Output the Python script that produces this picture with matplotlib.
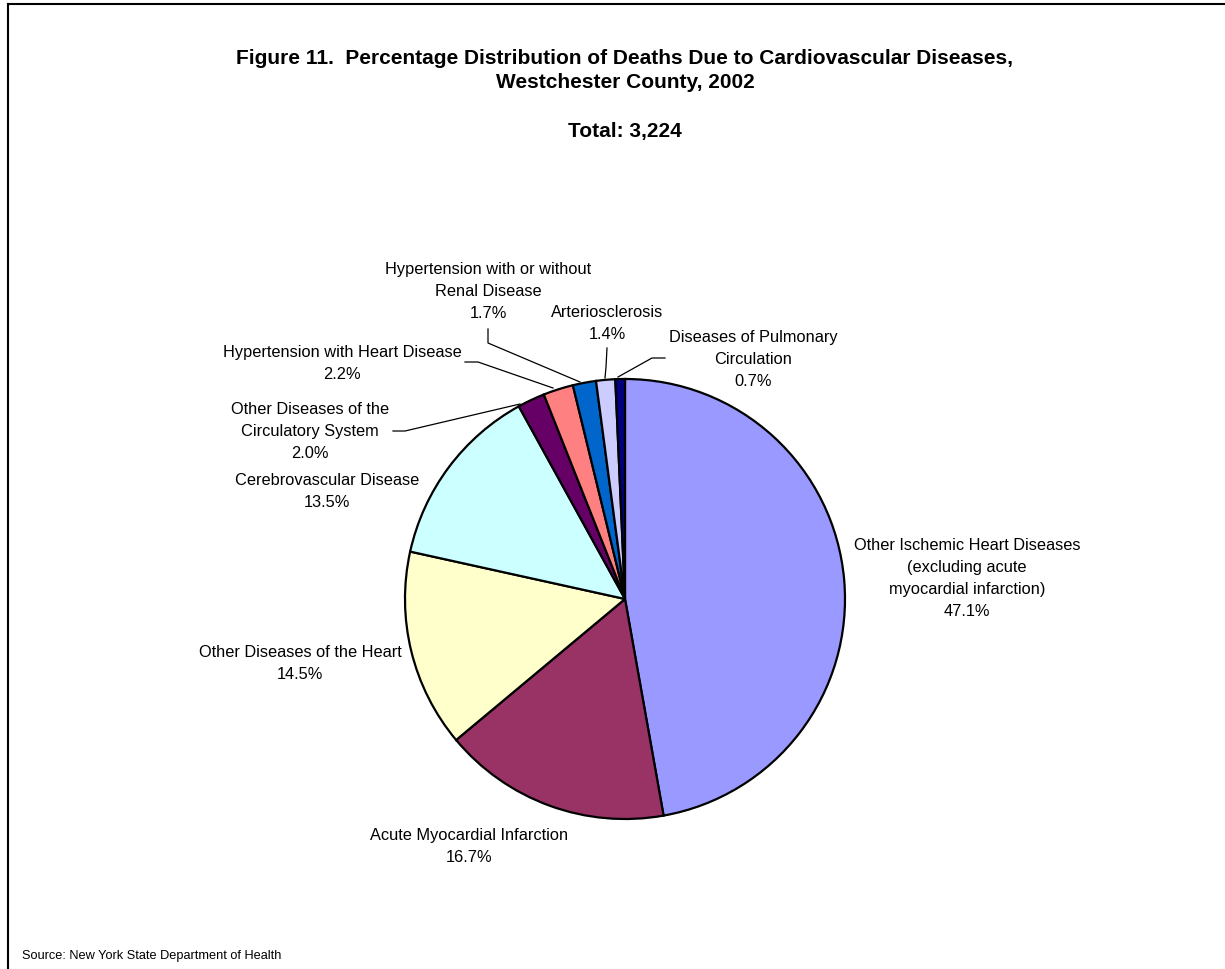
import matplotlib
matplotlib.use("Agg")
import matplotlib.pyplot as plt
import numpy as np

categories = [
    "Other Ischemic Heart Diseases\n(excluding acute\nmyocardial infarction)",
    "Acute Myocardial Infarction",
    "Other Diseases of the Heart",
    "Cerebrovascular Disease",
    "Other Diseases of the\nCirculatory System",
    "Hypertension with Heart Disease",
    "Hypertension with or without\nRenal Disease",
    "Arteriosclerosis",
    "Diseases of Pulmonary\nCirculation",
]
values = [47.1, 16.7, 14.5, 13.5, 2.0, 2.2, 1.7, 1.4, 0.7]
colors = ["#9999FF", "#993366", "#FFFFCC", "#CCFFFF", "#660066",
          "#FF8080", "#0066CC", "#CCCCFF", "#000080"]

W, H = 1225, 970
CX, CY, R = 625, 600, 220

plt.rcParams['font.family'] = ['Liberation Sans', 'DejaVu Sans']
fig = plt.figure(figsize=(W / 100, H / 100), dpi=100)
fig.patch.set_facecolor("white")

# frame lines (top & left)
fig.add_artist(plt.Line2D([8 / W, 1], [1 - 5 / H, 1 - 5 / H], color="black", lw=1.5))
fig.add_artist(plt.Line2D([8 / W, 8 / W], [0, 1 - 5 / H], color="black", lw=1.5))

ax = fig.add_axes([(CX - R) / W, (H - CY - R) / H, 2 * R / W, 2 * R / H])
ax.pie(values, colors=colors, startangle=90, counterclock=False,
       wedgeprops=dict(edgecolor="black", linewidth=1.6))
ax.set_xlim(-1, 1)
ax.set_ylim(-1, 1)
ax.set_aspect("equal")
ax.axis("off")


def d(px, py):
    return (px - CX) / R, (CY - py) / R


# label positions in pixels: (center x, y of first line)
label_pos = [
    (967, 546), (469, 836), (300, 653), (327, 481), (310, 410),
    (342, 353), (488, 270), (607, 313), (753, 338),
]
LINE = 22
fs = 11.8
for cat, v, (px, py) in zip(categories, values, label_pos):
    lines = cat.split("\n") + [f"{v:.1f}%"]
    for i, ln in enumerate(lines):
        x, y = d(px, py + i * LINE)
        ax.text(x, y, ln, ha="center", va="center", fontsize=fs, clip_on=False)

# leader lines (pixel paths)
leaders = [
    [(393, 432), (405, 432), (520, 405)],
    [(465, 363), (478, 363), (553, 389)],
    [(488, 330), (488, 344), (580, 383)],
    [(607, 349), (606, 368), (605, 379)],
    [(665, 359), (652, 359), (618, 378)],
]
for path in leaders:
    xs, ys = zip(*[d(px, py) for px, py in path])
    ax.plot(xs, ys, color="black", lw=0.9, clip_on=False)

fig.text(CX / W, 1 - 58 / H,
         "Figure 11.  Percentage Distribution of Deaths Due to Cardiovascular Diseases,",
         ha="center", va="center", fontsize=15, fontweight="bold")
fig.text(CX / W, 1 - 82 / H, "Westchester County, 2002",
         ha="center", va="center", fontsize=15, fontweight="bold")
fig.text(CX / W, 1 - 132 / H, "Total: 3,224", ha="center", va="center",
         fontsize=15, fontweight="bold")
fig.text(22 / W, 1 - 956 / H, "Source: New York State Department of Health",
         ha="left", va="center", fontsize=9.2)

fig.savefig("out.png", dpi=100)
